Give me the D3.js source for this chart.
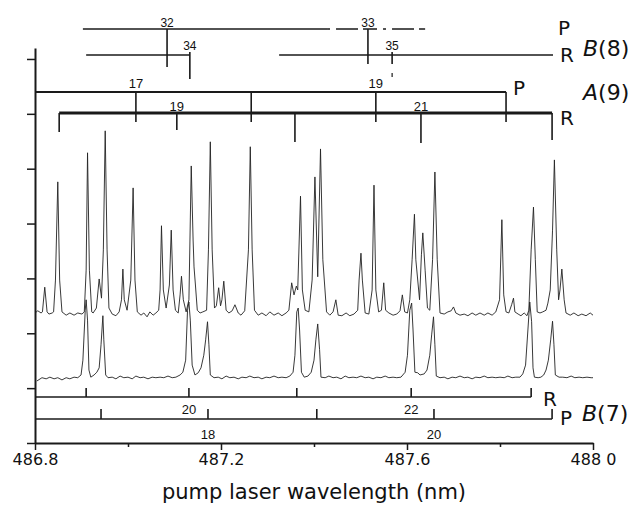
<!DOCTYPE html>
<html><head><meta charset="utf-8">
<script src="https://cdn.jsdelivr.net/npm/d3@7"></script>
<style>body{margin:0;background:#fff}svg{display:block}</style>
</head><body>
<svg id="chart" width="635" height="508"></svg>
<script>
// ---------- DATA ----------
// upper spectrum: [wavelength nm, intensity a.u.]
const upperTrace = [
[486.800,2.37],[486.806,2.41],[486.813,2.37],[486.816,2.39],[486.821,2.84],[486.826,2.39],[486.830,2.35],[486.837,2.37],
[486.840,2.39],[486.844,2.97],[486.849,4.76],[486.853,2.97],[486.858,2.39],[486.867,2.33],[486.875,2.37],[486.884,2.33],
[486.892,2.37],[486.901,2.35],[486.906,2.39],[486.910,3.15],[486.913,5.29],[486.917,3.15],[486.922,2.39],[486.925,2.37],
[486.932,2.46],[486.938,2.99],[486.943,2.64],[486.947,3.52],[486.951,5.69],[486.955,3.52],[486.959,2.46],[486.966,2.35],
[486.974,2.32],[486.981,2.39],[486.986,2.61],[486.989,3.17],[486.992,2.61],[486.998,2.42],[487.006,2.97],[487.011,4.65],
[487.015,2.97],[487.020,2.39],[487.028,2.33],[487.034,2.37],[487.041,2.30],[487.047,2.39],[487.054,2.33],[487.060,2.37],
[487.066,2.42],[487.069,2.79],[487.072,3.96],[487.076,2.79],[487.082,2.46],[487.089,2.88],[487.093,3.88],[487.097,2.79],
[487.102,2.42],[487.108,2.37],[487.112,2.70],[487.115,3.04],[487.119,2.61],[487.125,2.39],[487.131,2.61],[487.136,5.05],
[487.140,3.70],[487.142,3.21],[487.145,2.88],[487.149,2.42],[487.155,2.37],[487.161,2.39],[487.169,2.42],[487.173,3.52],
[487.177,5.49],[487.181,3.52],[487.186,2.46],[487.190,2.50],[487.195,2.83],[487.199,2.50],[487.202,2.61],[487.206,2.95],
[487.211,2.42],[487.217,2.37],[487.224,2.41],[487.230,2.52],[487.237,2.37],[487.243,2.33],[487.251,2.41],[487.259,3.52],
[487.263,5.40],[487.267,3.52],[487.272,2.42],[487.280,2.33],[487.288,2.37],[487.297,2.32],[487.305,2.39],[487.314,2.33],
[487.323,2.37],[487.331,2.32],[487.340,2.37],[487.346,2.42],[487.352,2.92],[487.357,2.70],[487.362,2.86],[487.365,2.79],
[487.371,4.50],[487.375,2.79],[487.381,2.42],[487.389,2.39],[487.396,2.97],[487.402,4.85],[487.408,3.03],[487.414,5.36],
[487.419,3.34],[487.427,2.39],[487.434,2.33],[487.441,2.39],[487.447,2.61],[487.452,2.33],[487.460,2.32],[487.469,2.37],
[487.477,2.32],[487.486,2.35],[487.494,2.42],[487.497,2.97],[487.501,3.46],[487.504,2.97],[487.510,2.37],[487.518,2.35],
[487.525,2.79],[487.529,4.70],[487.533,2.79],[487.539,2.39],[487.545,2.42],[487.550,2.92],[487.554,2.42],[487.561,2.37],
[487.570,2.33],[487.578,2.35],[487.585,2.41],[487.590,2.70],[487.595,2.39],[487.601,2.37],[487.606,2.61],[487.611,3.34],
[487.616,4.17],[487.619,3.34],[487.627,2.61],[487.631,3.43],[487.634,3.83],[487.639,3.15],[487.644,2.46],[487.649,2.42],
[487.655,3.34],[487.660,4.94],[487.665,3.34],[487.671,2.37],[487.680,2.35],[487.688,2.39],[487.695,2.41],[487.700,2.48],
[487.705,2.37],[487.714,2.33],[487.723,2.35],[487.731,2.32],[487.740,2.37],[487.748,2.33],[487.757,2.37],[487.766,2.33],
[487.774,2.37],[487.783,2.33],[487.791,2.39],[487.799,2.61],[487.804,4.07],[487.808,2.70],[487.813,2.39],[487.819,2.37],
[487.825,2.52],[487.829,2.64],[487.832,2.39],[487.839,2.35],[487.845,2.32],[487.852,2.37],[487.858,2.32],[487.862,2.42],
[487.867,3.52],[487.872,4.30],[487.876,3.34],[487.880,2.39],[487.886,2.37],[487.892,2.39],[487.899,2.42],[487.903,2.55],
[487.908,2.79],[487.913,3.88],[487.917,5.16],[487.922,3.52],[487.926,2.61],[487.929,2.79],[487.933,3.17],[487.938,2.61],
[487.942,2.37],[487.951,2.33],[487.959,2.37],[487.968,2.32],[487.976,2.35],[487.985,2.32],[487.994,2.37],[488.000,2.33]
];
// lower spectrum
const lowerTrace = [
[486.804,1.13],[486.815,1.19],[486.824,1.17],[486.832,1.20],[486.841,1.17],[486.849,1.19],[486.858,1.15],[486.867,1.19],
[486.875,1.17],[486.884,1.20],[486.892,1.19],[486.899,1.24],[486.903,1.51],[486.908,2.42],[486.910,2.61],[486.913,2.24],
[486.916,1.33],[486.920,1.20],[486.927,1.24],[486.933,1.29],[486.938,1.37],[486.942,1.79],[486.946,2.32],[486.948,1.88],
[486.952,1.24],[486.957,1.19],[486.966,1.20],[486.974,1.17],[486.983,1.22],[486.991,1.19],[487.000,1.20],[487.009,1.17],
[487.017,1.22],[487.026,1.19],[487.034,1.20],[487.043,1.17],[487.052,1.20],[487.060,1.19],[487.069,1.20],[487.077,1.19],
[487.086,1.22],[487.095,1.19],[487.103,1.20],[487.112,1.24],[487.118,1.29],[487.124,1.51],[487.128,2.42],[487.131,2.57],
[487.134,2.24],[487.138,1.42],[487.144,1.24],[487.151,1.28],[487.157,1.37],[487.163,1.60],[487.167,1.88],[487.171,2.21],
[487.174,1.79],[487.177,1.24],[487.185,1.19],[487.194,1.20],[487.202,1.17],[487.211,1.22],[487.219,1.19],[487.228,1.20],
[487.237,1.17],[487.245,1.20],[487.254,1.19],[487.262,1.22],[487.271,1.19],[487.280,1.20],[487.288,1.17],[487.297,1.20],
[487.305,1.19],[487.314,1.22],[487.323,1.19],[487.331,1.20],[487.340,1.19],[487.348,1.22],[487.355,1.29],[487.359,1.60],
[487.363,2.39],[487.366,2.46],[487.369,2.06],[487.373,1.29],[487.379,1.20],[487.387,1.22],[487.394,1.29],[487.400,1.51],
[487.404,1.88],[487.408,2.17],[487.412,1.70],[487.415,1.20],[487.424,1.19],[487.432,1.22],[487.441,1.19],[487.449,1.20],
[487.458,1.17],[487.467,1.22],[487.475,1.19],[487.484,1.20],[487.492,1.19],[487.501,1.22],[487.510,1.19],[487.518,1.20],
[487.527,1.17],[487.535,1.20],[487.544,1.19],[487.553,1.22],[487.561,1.19],[487.570,1.20],[487.578,1.19],[487.587,1.20],
[487.596,1.29],[487.601,1.60],[487.606,2.42],[487.610,2.55],[487.613,2.06],[487.617,1.29],[487.623,1.28],[487.628,1.24],
[487.637,1.26],[487.643,1.33],[487.649,1.60],[487.653,1.97],[487.657,2.30],[487.660,1.79],[487.663,1.22],[487.671,1.19],
[487.680,1.20],[487.688,1.17],[487.697,1.20],[487.705,1.19],[487.714,1.22],[487.723,1.19],[487.731,1.20],[487.740,1.17],
[487.748,1.20],[487.757,1.19],[487.766,1.22],[487.774,1.19],[487.783,1.20],[487.791,1.19],[487.800,1.20],[487.809,1.19],
[487.817,1.22],[487.826,1.19],[487.834,1.20],[487.843,1.20],[487.849,1.26],[487.855,1.42],[487.860,2.06],[487.864,2.57],
[487.868,2.21],[487.871,1.37],[487.874,1.20],[487.882,1.19],[487.888,1.20],[487.894,1.24],[487.899,1.33],[487.904,1.51],
[487.909,1.88],[487.913,2.22],[487.916,1.79],[487.919,1.24],[487.927,1.20],[487.935,1.20],[487.944,1.19],[487.953,1.22],
[487.961,1.19],[487.970,1.20],[487.978,1.19],[487.987,1.20],[487.996,1.19],[488.000,1.19]
];
// rotational assignment combs (line positions in nm, J labels)
const b8P_wl = [487.084, 487.516];
const b8P_J  = ["32", "33"];
const b8P_span = [486.903, 487.428, 487.639];          // solid start, dashed start, end
const b8R_wl = [487.133, 487.568];
const b8R_J  = ["34", "35"];
const b8R_spans = [[486.910, 487.133], [487.325, 487.914]];
const a9P_wl = [487.017, 487.265, 487.533, 487.813];
const a9P_J  = ["17", "", "19", ""];
const a9P_span = [486.800, 487.813];
const a9R_wl = [486.852, 487.105, 487.359, 487.630, 487.912];
const a9R_J  = ["", "19", "", "21", ""];
const a9R_span = [486.852, 487.912];
const b7R_wl = [486.910, 487.131, 487.363, 487.609, 487.867];
const b7R_J  = ["", "20", "", "22", ""];
const b7R_span = [486.800, 487.867];
const b7P_wl = [486.942, 487.172, 487.406, 487.658, 487.912];
const b7P_J  = ["", "18", "", "20", ""];
const b7P_span = [486.800, 487.912];
// axes
const xMajor = [486.8, 487.2, 487.6, 488.0];
const xMajorLabels = ["486.8", "487.2", "487.6", "488 0"];
const xMinor = [487.0, 487.4, 487.8];
const yTicks = [0, 1, 2, 3, 4, 5, 6, 7];
const xTitle = "pump laser wavelength (nm)";

// ---------- DRAW ----------
const svg = d3.select("#chart");
const x = d3.scaleLinear().domain([486.8, 488.0]).range([35, 593]);
const y = d3.scaleLinear().domain([0, 7.2]).range([443, 48]);
const INK = "#1a1a1a";

// traces
const line = d3.line().x(d => x(d[0])).y(d => y(d[1]));
[upperTrace, lowerTrace].forEach(t => {
  svg.append("path").datum(t).attr("d", line)
    .attr("fill", "none").attr("stroke", "#222").attr("stroke-width", 0.9)
    .attr("stroke-linejoin", "round");
});

// y axis
const ya = svg.append("g").attr("transform", `translate(${x(486.8)},0)`)
  .call(d3.axisLeft(y).tickValues(yTicks).tickFormat("").tickSize(8).tickSizeOuter(0));
ya.select(".domain").attr("stroke", INK).attr("stroke-width", 2);
ya.selectAll(".tick line").attr("stroke", INK).attr("stroke-width", 1.5);

// x axis
const xa = svg.append("g").attr("transform", `translate(0,${y(0)})`)
  .call(d3.axisBottom(x).tickValues(xMajor).tickSize(7).tickSizeOuter(0).tickPadding(4)
    .tickFormat((d, i) => xMajorLabels[i]));
xa.select(".domain").attr("stroke", INK).attr("stroke-width", 2);
xa.selectAll(".tick line").attr("stroke", INK).attr("stroke-width", 1.5);
xa.selectAll(".tick text").attr("font-family", "DejaVu Sans").attr("font-size", 16).attr("fill", "#111");
const xm = svg.append("g").attr("transform", `translate(0,${y(0)})`)
  .call(d3.axisBottom(x).tickValues(xMinor).tickSize(4).tickFormat(""));
xm.select(".domain").remove();
xm.selectAll(".tick line").attr("stroke", INK).attr("stroke-width", 1.5);

svg.append("text").attr("x", 314).attr("y", 499).attr("text-anchor", "middle")
  .attr("font-family", "DejaVu Sans").attr("font-size", 21).attr("fill", "#111").text(xTitle);

// combs
function comb(o) {
  const g = svg.append("g").attr("stroke", INK).attr("fill", "none");
  o.spans.forEach(s => g.append("line").attr("x1", x(s[0])).attr("x2", x(s[1]))
    .attr("y1", o.ly).attr("y2", o.ly).attr("stroke-width", o.sw));
  if (o.dash) g.append("line").attr("x1", x(o.dash[0])).attr("x2", x(o.dash[1]))
    .attr("y1", o.ly).attr("y2", o.ly).attr("stroke-width", o.sw).attr("stroke-dasharray", "3,6,22,5,14,6");
  o.wl.forEach((w, i) => {
    const len = Array.isArray(o.len) ? o.len[i] : o.len;
    g.append("line").attr("x1", x(w)).attr("x2", x(w))
      .attr("y1", o.ly + (o.t0 || 0)).attr("y2", o.ly + len).attr("stroke-width", 1.6);
  });
  const tg = svg.append("g").attr("font-family", "Liberation Sans, Arial, sans-serif")
    .attr("font-size", o.fs).attr("fill", "#111").attr("text-anchor", "middle");
  o.wl.forEach((w, i) => {
    if (o.labels[i]) tg.append("text").attr("x", x(w) + (o.dx || 0)).attr("y", o.ly + o.lab).text(o.labels[i]);
  });
}
comb({wl: b8P_wl, labels: b8P_J, spans: [[b8P_span[0], b8P_span[1]]], dash: [b8P_span[1], b8P_span[2]],
      ly: 29, len: [38, 35], lab: -2, fs: 12, sw: 1.6});
comb({wl: b8R_wl, labels: b8R_J, spans: b8R_spans, ly: 55, t0: -3, len: [24, 9], lab: -5, fs: 12, sw: 1.6});
comb({wl: a9P_wl, labels: a9P_J, spans: [a9P_span], ly: 92, len: 30, lab: -4, fs: 13, sw: 2});
comb({wl: a9R_wl, labels: a9R_J, spans: [a9R_span], ly: 113, len: [19, 17, 29, 30, 27], lab: -2, fs: 13, sw: 3});
comb({wl: b7R_wl, labels: b7R_J, spans: [b7R_span], ly: 397, len: -9, lab: 17, fs: 13, sw: 1.6});
comb({wl: b7P_wl, labels: b7P_J, spans: [b7P_span], ly: 419, len: -10, lab: 20, fs: 13, sw: 1.6});
// small stray mark below J=35
svg.append("line").attr("x1", x(b8R_wl[1])).attr("x2", x(b8R_wl[1])).attr("y1", 73).attr("y2", 77)
  .attr("stroke", INK).attr("stroke-width", 1.2);

// branch / state labels
const lab = svg.append("g").attr("font-family", "DejaVu Sans").attr("fill", "#111");
function bl(t, xx, yy, fs) { return lab.append("text").attr("x", xx).attr("y", yy).attr("font-size", fs).text(t); }
function state(letter, num, xx, yy) {
  const t = lab.append("text").attr("x", xx).attr("y", yy).attr("font-size", 22);
  t.append("tspan").attr("font-style", "italic").text(letter);
  t.append("tspan").text("(" + num + ")");
}
bl("P", 558, 35, 20); bl("R", 560, 62, 20); state("B", "8", 583, 56);
bl("P", 513, 95, 20); bl("R", 560, 125, 20); state("A", "9", 583, 100);
bl("R", 543, 406, 20); bl("P", 560, 425, 20); state("B", "7", 582, 421);
</script>
</body></html>
